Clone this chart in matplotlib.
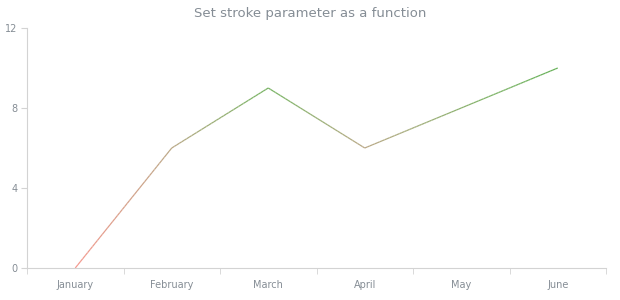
import matplotlib.pyplot as plt
from matplotlib.collections import LineCollection
from matplotlib.colors import LinearSegmentedColormap
import numpy as np

months = ["January", "February", "March", "April", "May", "June"]
values = [0, 6, 9, 6, 8, 10]

GRAY = "#858d95"
AXIS = "#d3d3d3"

fig = plt.figure(figsize=(6.2, 3.0), dpi=100)
ax = fig.add_axes([27 / 620, 32 / 300, 579 / 620, 240 / 300])

# stroke colour depends on the value: red at low values, green at high ones
cmap = LinearSegmentedColormap.from_list(
    "stroke", [(0, "#f59a90"), (0.6, "#bba988"), (0.85, "#82b46a"), (1, "#68b25a")])
x = np.arange(len(values))
xs, ys = [], []
for i in range(len(values) - 1):
    t = np.linspace(0, 1, 40)
    xs.extend(x[i] + t * (x[i + 1] - x[i]))
    ys.extend(values[i] + t * (values[i + 1] - values[i]))
pts = np.array([xs, ys]).T.reshape(-1, 1, 2)
segs = np.concatenate([pts[:-1], pts[1:]], axis=1)
lc = LineCollection(segs, cmap=cmap, norm=plt.Normalize(0, 10), linewidth=0.9)
lc.set_array((np.array(ys[:-1]) + np.array(ys[1:])) / 2)
ax.add_collection(lc)

ax.set_xlim(-0.5, len(months) - 0.5)
ax.set_ylim(0, 12)
ax.set_xticks(x)
ax.set_xticklabels(months)
ax.set_xticks(np.arange(-0.5, len(months)), minor=True)
ax.set_yticks([0, 4, 8, 12])
ax.tick_params(axis="x", which="major", length=0, pad=9, labelsize=7, labelcolor=GRAY)
ax.tick_params(axis="x", which="minor", length=4, color=AXIS)
ax.tick_params(axis="y", length=4, color=AXIS, pad=3, labelsize=7, labelcolor=GRAY)
for side in ("top", "right"):
    ax.spines[side].set_visible(False)
for side in ("left", "bottom"):
    ax.spines[side].set_color(AXIS)
    ax.spines[side].set_linewidth(0.8)

fig.text(0.5, 1 - 14 / 300, "Set stroke parameter as a function", ha="center", va="center",
         fontsize=9.5, color=GRAY)
fig.savefig("out.png", dpi=100)
